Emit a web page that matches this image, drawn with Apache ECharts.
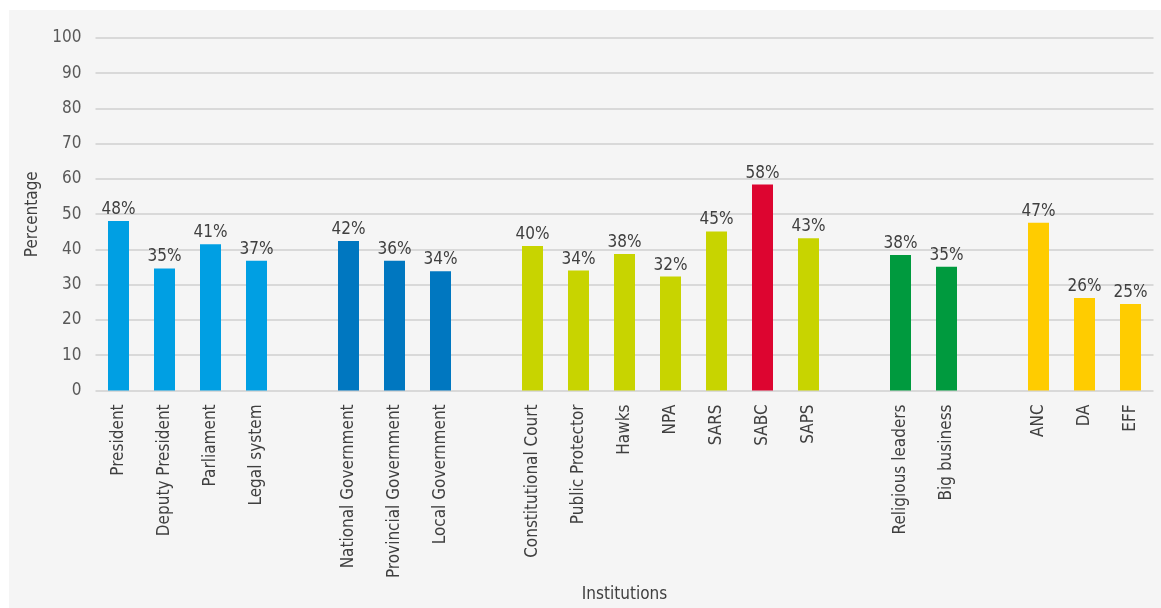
<!DOCTYPE html>
<html>
<head>
<meta charset="utf-8">
<script src="https://cdn.jsdelivr.net/npm/echarts@6/dist/echarts.min.js"></script>
<style>html,body{margin:0;padding:0;background:#fff;overflow:hidden;}#c{width:1161px;height:608px;}</style>
</head>
<body>
<div id="c"></div>
<script>
// Categories (empty strings are gaps between groups)
const categories = ['President','Deputy President','Parliament','Legal system','',
  'National Government','Provincial Government','Local Government','',
  'Constitutional Court','Public Protector','Hawks','NPA','SARS','SABC','SAPS','',
  'Religious leaders','Big business','',
  'ANC','DA','EFF'];
const values = [48.1,34.6,41.5,36.8,null,
  42.4,36.8,33.8,null,
  41.0,34.0,38.7,32.3,45.1,58.4,43.2,null,
  38.4,35.1,null,
  47.6,26.2,24.5];
const valueLabels = ['48%','35%','41%','37%','',
  '42%','36%','34%','',
  '40%','34%','38%','32%','45%','58%','43%','',
  '38%','35%','',
  '47%','26%','25%'];
const groups = ['gov','gov','gov','gov','',
  'admin','admin','admin','',
  'inst','inst','inst','inst','inst','top','inst','',
  'civil','civil','',
  'party','party','party'];
const groupColors = {gov:'#009fe3', admin:'#0077c0', inst:'#c8d400', top:'#dd0530', civil:'#009a3e', party:'#ffcc00'};
const yTicks = [0,10,20,30,40,50,60,70,80,90,100];

const font = "'DejaVu Sans Condensed','Liberation Sans Narrow',Roboto,sans-serif";
const chart = echarts.init(document.getElementById('c'), null, {renderer:'canvas'});
chart.setOption({
  backgroundColor:'#ffffff',
  animation:false,
  graphic:[{type:'rect', z:-10, shape:{x:9,y:10,width:1152,height:598}, style:{fill:'#f5f5f5'}}],
  grid:{left:95.5, right:7.5, top:38, bottom:210, containLabel:false},
  xAxis:{
    type:'category', data:categories,
    name:'Institutions', nameLocation:'middle', nameGap:178,
    nameTextStyle:{fontFamily:font, fontSize:17, color:'#404040'},
    axisLine:{show:false}, axisTick:{show:false},
    axisLabel:{interval:0, rotate:90, margin:14, fontFamily:font, fontSize:17, color:'#404040'}
  },
  yAxis:{
    type:'value', min:yTicks[0], max:yTicks[yTicks.length-1], interval:10,
    name:'Percentage', nameLocation:'middle', nameGap:46,
    nameTextStyle:{fontFamily:font, fontSize:17, color:'#404040'},
    axisLine:{show:false}, axisTick:{show:false},
    axisLabel:{margin:14, fontFamily:font, fontSize:17, color:'#595959'},
    splitLine:{lineStyle:{color:'#d9d9d9', width:2}}
  },
  series:[{
    type:'bar', barWidth:21,
    data: values.map((v,i)=>({value:v, itemStyle:{color:groupColors[groups[i]]||'#ccc'}})),
    label:{show:true, position:'top', distance:3, fontFamily:font, fontSize:17, color:'#404040',
      formatter:p=>valueLabels[p.dataIndex]}
  }]
});
</script>
</body>
</html>
